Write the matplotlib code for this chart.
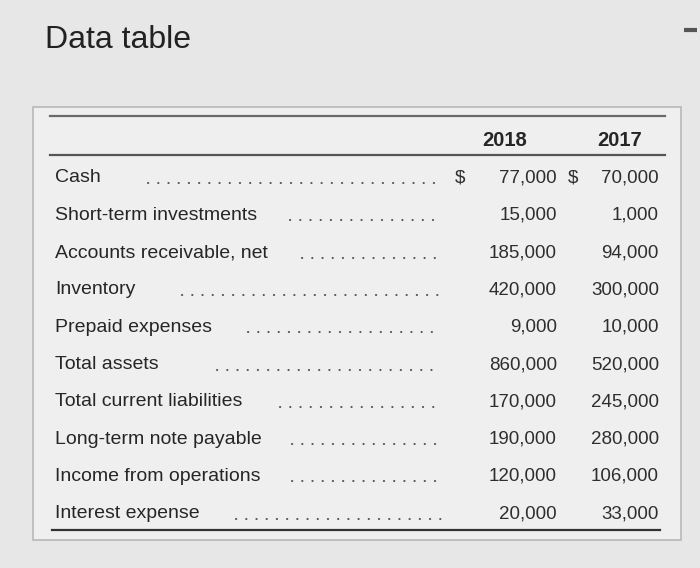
import matplotlib.pyplot as plt
from matplotlib.patches import Rectangle

plt.rcParams['font.family'] = ['Liberation Sans', 'DejaVu Sans']

# Table data
labels = ['Cash', 'Short-term investments', 'Accounts receivable, net', 'Inventory',
          'Prepaid expenses', 'Total assets', 'Total current liabilities',
          'Long-term note payable', 'Income from operations', 'Interest expense']
years = ['2018', '2017']
values_2018 = [77000, 15000, 185000, 420000, 9000, 860000, 170000, 190000, 120000, 20000]
values_2017 = [70000, 1000, 94000, 300000, 10000, 520000, 245000, 280000, 106000, 33000]

# where the dotted leaders start (pixels)
dots_start = [148, 290, 302, 182, 248, 217, 280, 292, 292, 236]

fig = plt.figure(figsize=(7, 5.68), dpi=100)
fig.patch.set_facecolor('#e7e7e7')
ax = fig.add_axes([0, 0, 1, 1])
ax.set_xlim(0, 700)
ax.set_ylim(568, 0)
ax.axis('off')

txt = '#262626'

ax.text(45, 40, 'Data table', fontsize=23, color='#222222', va='center', ha='left')
ax.plot([684, 697], [30, 30], color='#555555', lw=3, solid_capstyle='butt')

# table box
ax.add_patch(Rectangle((33, 107), 648, 433, facecolor='#efefef',
                       edgecolor='#b8b8b8', lw=1.2))
ax.plot([50, 665], [116, 116], color='#6a6a6a', lw=1.6)
ax.plot([50, 665], [155, 155], color='#555555', lw=1.6)
ax.plot([52, 660], [530, 530], color='#333333', lw=1.6)

ax.text(505, 141, years[0], fontsize=14.5, fontweight='bold', color=txt, ha='center', va='center')
ax.text(620, 141, years[1], fontsize=14.5, fontweight='bold', color=txt, ha='center', va='center')

row_y0 = 178
row_step = 37.3
for i, lab in enumerate(labels):
    y = row_y0 + i * row_step
    ax.text(55, y, lab, fontsize=14, color=txt, ha='left', va='center')
    ax.plot([dots_start[i], 441], [y + 5, y + 5], color='#555555', lw=1.5,
            linestyle=(0, (0.1, 4.8)), dash_capstyle='round')
    ax.text(557, y, f'{values_2018[i]:,}', fontsize=13.5, color='#2e2e2e', ha='right', va='center')
    ax.text(659, y, f'{values_2017[i]:,}', fontsize=13.5, color='#2e2e2e', ha='right', va='center')
    if i == 0:
        ax.text(460, y, '$', fontsize=13.5, color='#2e2e2e', ha='center', va='center')
        ax.text(573, y, '$', fontsize=13.5, color='#2e2e2e', ha='center', va='center')

fig.savefig('out.png', dpi=100, facecolor=fig.get_facecolor())
